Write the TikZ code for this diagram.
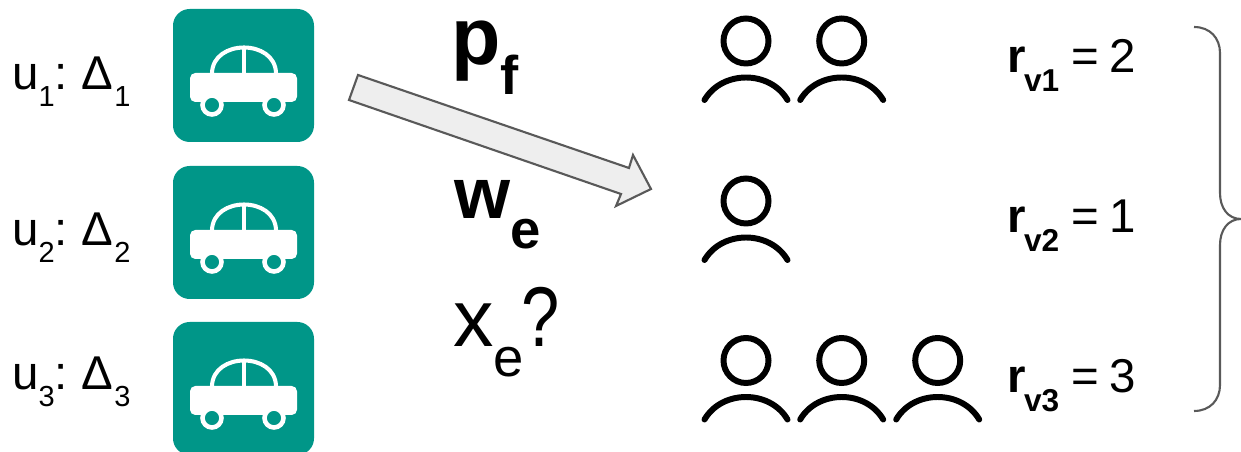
\documentclass[tikz,border=0pt]{standalone}
\usepackage{fontspec}
\usepackage{xcolor}
\setmainfont{Liberation Sans}
\definecolor{carteal}{HTML}{009688}
\definecolor{shaftgray}{HTML}{EEEEEE}
\definecolor{edgegray}{HTML}{595959}
\newcommand{\lowsub}[1]{\raisebox{-9.6pt}{\fontsize{16.5}{16.5}\selectfont #1}}
\newcommand{\boldsub}[1]{\raisebox{-10.8pt}{\fontsize{18}{18}\selectfont\bfseries #1}}
\newcommand{\bigsub}[1]{\raisebox{-17pt}{\fontsize{31}{31}\selectfont #1}}
\tikzset{
  lbl/.style={anchor=base west,inner sep=0pt,font=\fontsize{27}{27}\selectfont},
  biglbl/.style={anchor=base west,inner sep=0pt,font=\fontsize{46}{46}\selectfont},
  boldlbl/.style={anchor=base west,inner sep=0pt,font=\fontsize{46}{46}\selectfont\bfseries},
  person/.style={line width=3.4pt,line cap=round},
}
\begin{document}
\begin{tikzpicture}[x=0.02cm,y=-0.02cm]
  \useasboundingbox (0,0) rectangle (1241,452);
  % cars
  \foreach \y in {0,157,313}
  {
    \fill[carteal,rounded corners=9.5pt] (173,9+\y) rectangle (314,142+\y);
    \fill[white,rounded corners=3pt] (190,102+\y) -- (190,73+\y) -- (297,73+\y) -- (297,102+\y) -- cycle;
    \draw[white,line width=2.3pt] (212,73+\y) .. controls (213,39+\y) and (275,39+\y) .. (276,73+\y);
    \draw[white,line width=2.3pt] (244,47+\y) -- (244,73+\y);
    \filldraw[fill=carteal,draw=white,line width=2.6pt] (212,105+\y) circle (9.5);
    \filldraw[fill=carteal,draw=white,line width=2.6pt] (274,105+\y) circle (9.5);
  }
  % user labels
  \foreach \y/\i in {90/1,246/2,390/3}
    \node[lbl] (user\i) at (12,\y) {u\lowsub{\i}:\hspace{7.9pt}Δ\hspace{0.5pt}\lowsub{\i}};
  % block arrow
  \draw[edgegray,fill=shaftgray,line width=1.2pt,line join=miter]
    (358,75) -- (629,168) -- (633,155) -- (651,189) -- (616,206) -- (621,194) -- (349,100) -- cycle;
  % middle labels
  \node[boldlbl] (pf) at (451,65) {p\bigsub{f}};
  \node[boldlbl,font=\fontsize{41}{41}\selectfont\bfseries] (we) at (454,219) {w\bigsub{e}};
  \node[biglbl] (xe) at (453,347) {x\bigsub{e}\hspace{-1.5pt}\scalebox{0.85}[1.05]{?}};
  % people
  \foreach \x/\y in {746/0,841.7/0,746/160,746/319.5,841.7/319.5,937.7/319.5}
  {
    \draw[person] (\x,41+\y) circle (22.5);
    \draw[person] (\x-41.5,100+\y) .. controls (\x-24,70+\y) and (\x+24,70+\y) .. (\x+41.5,100+\y);
  }
  % demand labels
  \foreach \y/\i/\n in {73/1/2,233/2/1,393/3/3}
    \node[lbl] (demand\i) at (1007,\y) {\textbf{r}\hspace{-1pt}\boldsub{v\i}\hspace{6.7pt}=\hspace{5.9pt}\n};
  % brace
  \draw[edgegray,line width=1.2pt] (1194,27) .. controls (1210,27) and (1220,38) .. (1220,53)
    -- (1220,193) .. controls (1220,208) and (1228,219) .. (1241,219)
    .. controls (1228,219) and (1220,230) .. (1220,245)
    -- (1220,385) .. controls (1220,400) and (1210,411) .. (1194,411);
\end{tikzpicture}
\end{document}
